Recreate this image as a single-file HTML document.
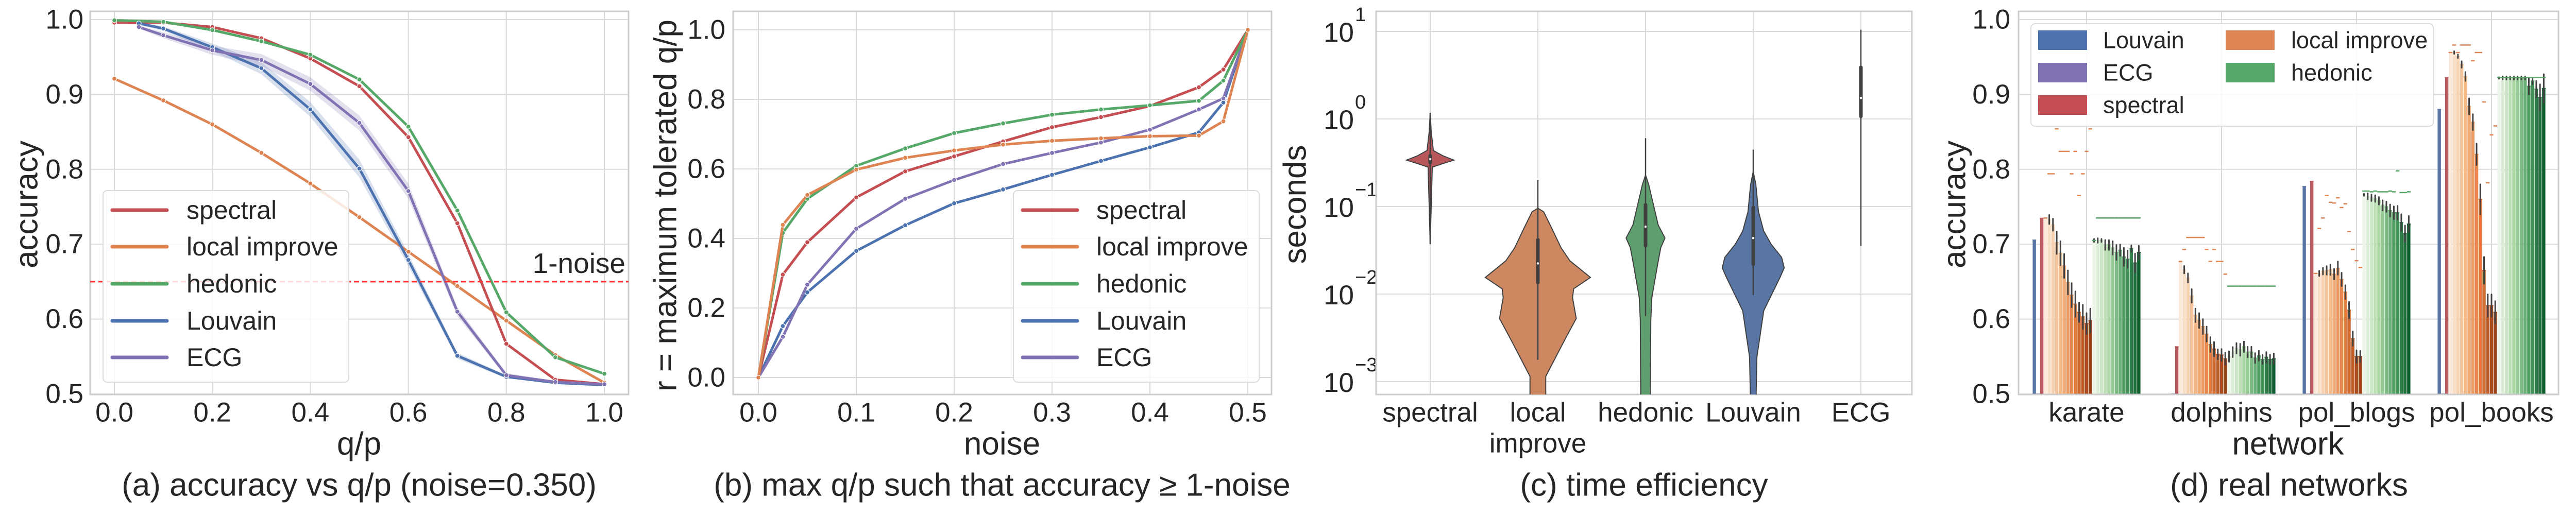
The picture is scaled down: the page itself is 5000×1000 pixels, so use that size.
<!DOCTYPE html>
<html><head><meta charset="utf-8"><style>
html,body{margin:0;padding:0;background:#fff;}
svg{display:block;font-family:"Liberation Sans",Arial,sans-serif;}
</style></head><body>
<svg id="fig" width="5000" height="1000" viewBox="0 0 5000 1000" xmlns="http://www.w3.org/2000/svg">
<defs>
<clipPath id="clipA"><rect x="175" y="22" width="1045" height="744"/></clipPath>
<clipPath id="clipB"><rect x="1423" y="22" width="1045" height="744"/></clipPath>
<clipPath id="clipC"><rect x="2671" y="22" width="1040" height="744"/></clipPath>
<clipPath id="clipD"><rect x="3918" y="22" width="1048" height="744"/></clipPath>
</defs>
</svg>
<script>
// ---------- Panel (a) data ----------
const qpA = [0,0.1,0.2,0.3,0.4,0.5,0.6,0.7,0.8,0.9,1.0];
const qpA2 = [0.05,0.1,0.2,0.3,0.4,0.5,0.6,0.7,0.8,0.9,1.0];
const aSpectral = [0.996,0.996,0.990,0.975,0.948,0.911,0.843,0.728,0.567,0.519,0.513];
const aLocal = [0.921,0.892,0.860,0.822,0.781,0.736,0.690,0.644,0.598,0.552,0.515];
const aHedonic = [0.999,0.997,0.986,0.971,0.953,0.920,0.857,0.745,0.609,0.549,0.527];
const aLouvain = [0.995,0.988,0.963,0.935,0.880,0.801,0.679,0.551,0.523,0.515,0.512];
const aECG = [0.990,0.979,0.959,0.946,0.914,0.862,0.771,0.610,0.525,0.516,0.513];
const aLouvainErr = [0.002,0.003,0.005,0.008,0.010,0.012,0.008,0.004,0.002,0.001,0.001];
const aECGErr = [0.002,0.004,0.006,0.008,0.009,0.010,0.010,0.006,0.003,0.001,0.001];
const aNoiseLine = 0.65;
const aYTicks = [0.5,0.6,0.7,0.8,0.9,1.0];
const aXTicks = [0,0.2,0.4,0.6,0.8,1.0];
// ---------- Panel (b) data ----------
const noiseB = [0,0.025,0.05,0.1,0.15,0.2,0.25,0.3,0.35,0.4,0.45,0.475,0.5];
const bSpectral = [0,0.296,0.389,0.518,0.593,0.636,0.679,0.72,0.749,0.781,0.835,0.886,1.0];
const bLocal = [0,0.439,0.525,0.598,0.632,0.653,0.670,0.681,0.688,0.694,0.696,0.737,1.0];
const bHedonic = [0,0.416,0.514,0.609,0.659,0.703,0.731,0.756,0.771,0.783,0.796,0.854,1.0];
const bLouvain = [0,0.148,0.245,0.364,0.438,0.501,0.541,0.583,0.623,0.662,0.705,0.791,1.0];
const bECG = [0,0.117,0.267,0.428,0.514,0.568,0.614,0.646,0.676,0.713,0.771,0.803,1.0];
const bYTicks = [0,0.2,0.4,0.6,0.8,1.0];
const bXTicks = [0,0.1,0.2,0.3,0.4,0.5];
// ---------- Panel (c) data (log10 seconds) ----------
const cCats = ["spectral","local improve","hedonic","Louvain","ECG"];
const cProfileLog = [
 [0.07,-0.15,-0.36,-0.42,-0.47,-0.51,-0.55,-1.43],
 [-1.02,-1.06,-1.28,-1.47,-1.62,-1.81,-1.94,-2.04,-2.28,-2.49,-2.94,-3.3],
 [-0.64,-0.75,-0.98,-1.21,-1.36,-1.47,-1.66,-2.04,-2.30,-3.3],
 [-0.60,-0.75,-1.06,-1.28,-1.43,-1.58,-1.70,-1.81,-2.19,-2.72,-3.3],
 []
];
const cProfileDens = [
 [0,0.02,0.06,0.24,0.45,0.24,0.04,0],
 [0,0.11,0.29,0.44,0.61,1.0,0.68,0.66,0.73,0.54,0.15,0.15],
 [0,0.06,0.15,0.24,0.37,0.29,0.23,0.12,0.10,0.09],
 [0,0.05,0.10,0.20,0.34,0.54,0.59,0.51,0.20,0.07,0.05],
 []
];
const cWhiskLo = [-1.43,-2.75,-2.25,-2.01,-1.45];
const cWhiskHi = [0.07,-0.70,-0.22,-0.35,1.02];
const cQ1 = [-0.50,-1.87,-1.45,-1.66,0.03];
const cQ3 = [-0.42,-1.38,-0.98,-1.01,0.59];
const cMedian = [-0.46,-1.65,-1.23,-1.36,0.24];
const cYTicks = [1,0,-1,-2,-3];
// ---------- Panel (d) data ----------
const dNets = ["karate","dolphins","pol_blogs","pol_books"];
const dLouvain = [0.7055,0.499,0.777,0.880];
const dECG = [0.5,0.5,0.5,0.5];
const dSpectral = [0.7347,0.563,0.784,0.9225];
const dLocal = [
 [0.734,0.733,0.726,0.702,0.688,0.671,0.649,0.632,0.620,0.609,0.603,0.594,0.598],
 [0.676,0.666,0.655,0.631,0.605,0.598,0.590,0.580,0.566,0.560,0.553,0.552,0.547],
 [0.661,0.661,0.664,0.665,0.666,0.660,0.668,0.653,0.636,0.612,0.574,0.550,0.550],
 [0.956,0.956,0.951,0.940,0.924,0.884,0.863,0.820,0.760,0.665,0.618,0.618,0.609]
];
const dLocalErr = [
 [0,0.006,0.008,0.015,0.016,0.016,0.016,0.016,0.017,0.013,0.016,0.014,0.016],
 [0,0.005,0.006,0.009,0.009,0.010,0.010,0.010,0.010,0.0095,0.0066,0.008,0.008],
 [0,0.0035,0.0044,0.0057,0.007,0.007,0.0088,0.0089,0.0092,0.011,0.0096,0.0083,0.0074],
 [0,0.0017,0.0023,0.0043,0.006,0.0107,0.0106,0.0144,0.020,0.018,0.015,0.015,0.015]
];
const dLocalBest = [
 [0.735,0.794,0.794,0.854,0.824,0.824,0.824,0.794,0.824,0.765,0.794,0.824,0.854],
 [0.677,0.693,0.709,0.709,0.709,0.709,0.709,0.693,0.677,0.693,0.677,0.677,0.660],
 [0.661,0.721,0.735,0.765,0.756,0.755,0.762,0.749,0.754,0.717,0.693,0.678,0.669],
 [0.956,0.966,0.956,0.966,0.966,0.966,0.945,0.956,0.956,0.890,0.782,0.846,0.858]
];
const dHedonic = [
 [0.705,0.705,0.705,0.699,0.699,0.695,0.689,0.692,0.683,0.680,0.694,0.675,0.689],
 [0.550,0.556,0.561,0.559,0.563,0.556,0.556,0.548,0.551,0.546,0.549,0.546,0.547],
 [0.766,0.764,0.762,0.761,0.758,0.752,0.750,0.745,0.742,0.742,0.729,0.714,0.727],
 [0.922,0.922,0.922,0.922,0.922,0.922,0.922,0.922,0.911,0.918,0.907,0.896,0.908]
];
const dHedonicErr = [
 [0.002,0.003,0.002,0.0066,0.0066,0.009,0.010,0.0075,0.012,0.0115,0.0043,0.0123,0.009],
 [0.007,0.0067,0.007,0.008,0.007,0.007,0.007,0.0066,0.0065,0.006,0.007,0.0063,0.007],
 [0.0014,0.004,0.0043,0.0044,0.005,0.0067,0.0068,0.008,0.0085,0.009,0.011,0.011,0.0106],
 [0.001,0.002,0.002,0.002,0.002,0.002,0.002,0.002,0.0106,0.0044,0.011,0.0175,0.019]
];
const dHedonicBest = [
 [0.705,0.735,0.735,0.735,0.735,0.735,0.735,0.735,0.735,0.735,0.735,0.735,0.735],
 [0.644,0.644,0.644,0.644,0.644,0.644,0.644,0.644,0.644,0.644,0.644,0.644,0.644],
 [0.771,0.771,0.770,0.771,0.770,0.770,0.770,0.771,0.770,0.798,0.769,0.769,0.770],
 [0.9225,0.9225,0.9225,0.9225,0.9225,0.9225,0.9225,0.9225,0.9225,0.9225,0.9225,0.9225,0.9225]
];
const dYTicks = [0.5,0.6,0.7,0.8,0.9,1.0];

// ---------- helpers ----------
const NS = "http://www.w3.org/2000/svg";
const svg = document.getElementById('fig');
function mk(tag, attrs, parent) {
  const e = document.createElementNS(NS, tag);
  for (const k in attrs) e.setAttribute(k, attrs[k]);
  (parent || svg).appendChild(e);
  return e;
}
const TXT = "#262626", GRID = "#dadada", SPINE = "#cccccc";
const COL = {spectral:"#c44e52", local:"#dd8452", hedonic:"#55a868", louvain:"#4c72b0", ecg:"#8172b3"};

// scales
const xa = v => 222 + v*951;
const ya = v => 765 - (v-0.5)*1454;
const xb = v => 1472 + v*1900;
const yb = v => 733 - v*675;
const xc = i => 2776 + i*209;
const yc = lv => 231 - lv*170;
const yd = v => 765 - (v-0.5)*1454;
const xdGroup = g => 4050 + g*262;
const BW = 210/29;
const xdBar = (g,j) => xdGroup(g) - 105 + j*BW;

function frame(x0,x1,name){
  const r = mk('rect',{x:x0,y:22,width:x1-x0,height:744,fill:'none',stroke:SPINE,'stroke-width':3});
  
  
}
function gridH(x0,x1,y){
  const l = mk('line',{x1:x0,x2:x1,y1:y,y2:y,stroke:GRID,'stroke-width':2});
  
  
}
function gridV(x,y0,y1){
  const l = mk('line',{x1:x,x2:x,y1:y0,y2:y1,stroke:GRID,'stroke-width':2});
  
  
}
function text(x,y,s,size,anchor,name,extra){
  const t = mk('text',Object.assign({x:x,y:y,'font-size':size,'text-anchor':anchor||'middle',fill:TXT,'dominant-baseline':'central'},extra||{}));
  t.textContent = s;
  
  
  return t;
}
function series(xs,ys,xf,yf,color,clip,name){
  const g = mk('g',{'clip-path':'url(#'+clip+')'});
  
  
  const pts = xs.map((x,i)=>xf(x)+','+yf(ys[i])).join(' ');
  const pl = mk('polyline',{points:pts,fill:'none',stroke:color,'stroke-width':5,'stroke-linejoin':'round'},g);
  
  
  xs.forEach((x,i)=>{
    const c = mk('circle',{cx:xf(x),cy:yf(ys[i]),r:4.5,fill:color,stroke:'#fff','stroke-width':1.2},g);
    
    
  });
}
function band(xs,ys,err,xf,yf,color,name){
  let d = xs.map((x,i)=>(i?'L':'M')+xf(x)+','+yf(ys[i]+err[i])).join(' ');
  for (let i=xs.length-1;i>=0;i--) d += ' L'+xf(xs[i])+','+yf(ys[i]-err[i]);
  const p = mk('path',{d:d+'Z',fill:color,opacity:0.22,'clip-path':'url(#clipA)'});
  
  
}
function legendLines(x0,y0,w,h,lineX,textX,rows,ys,size,name){
  const g = mk('g',{});
  
  
  const r = mk('rect',{x:x0,y:y0,width:w,height:h,rx:8,fill:'#fff','fill-opacity':0.82,stroke:'#dcdcdc','stroke-width':2},g);
  
  
  rows.forEach((row,i)=>{
    const l = mk('line',{x1:lineX,x2:lineX+106,y1:ys[i],y2:ys[i],stroke:row[1],'stroke-width':7,'stroke-linecap':'round'},g);
    
    
    const t = mk('text',{x:textX,y:ys[i],'font-size':size,fill:TXT,'dominant-baseline':'central'},g);
    t.textContent = row[0];
    
    
  });
}

// ================= Panel A =================
aYTicks.forEach(v=>{ gridH(175,1220,ya(v)); text(162,ya(v),v.toFixed(1),53,'end','y-tick-label'); });
aXTicks.forEach(v=>{ gridV(xa(v),22,766); text(xa(v),801,v.toFixed(1),53,'middle','x-tick-label'); });
frame(175,1220,'axes-a');
band(qpA2,aLouvain,aLouvainErr,xa,ya,COL.louvain,'louvain-ci-band');
band(qpA2,aECG,aECGErr,xa,ya,COL.ecg,'ecg-ci-band');
series(qpA,aLocal,xa,ya,COL.local,'clipA','series-local-improve');
series(qpA,aSpectral,xa,ya,COL.spectral,'clipA','series-spectral');
series(qpA,aHedonic,xa,ya,COL.hedonic,'clipA','series-hedonic');
series(qpA2,aLouvain,xa,ya,COL.louvain,'clipA','series-louvain');
series(qpA2,aECG,xa,ya,COL.ecg,'clipA','series-ecg');
const nl = mk('line',{x1:175,x2:1220,y1:ya(aNoiseLine),y2:ya(aNoiseLine),stroke:'#ff3030','stroke-width':3,'stroke-dasharray':'10,6'});


text(1214,ya(aNoiseLine)-36,'1-noise',55,'end','one-minus-noise-label');
legendLines(200,370,477,372,218,362,[['spectral',COL.spectral],['local improve',COL.local],['hedonic',COL.hedonic],['Louvain',COL.louvain],['ECG',COL.ecg]],[408,479,551,623,694],50,'legend-a');
text(52,397,'accuracy',62,'middle','y-axis-title-a',{transform:'rotate(-90 52 397)'});
text(697,862,'q/p',62,'middle','x-axis-title-a');
text(697,942,'(a) accuracy vs q/p (noise=0.350)',62,'middle','caption-a');

// ================= Panel B =================
bYTicks.forEach(v=>{ gridH(1423,2468,yb(v)); text(1408,yb(v),v.toFixed(1),53,'end','y-tick-label'); });
bXTicks.forEach(v=>{ gridV(xb(v),22,766); text(xb(v),801,v.toFixed(1),53,'middle','x-tick-label'); });
frame(1423,2468,'axes-b');
series(noiseB,bLouvain,xb,yb,COL.louvain,'clipB','series-louvain-b');
series(noiseB,bECG,xb,yb,COL.ecg,'clipB','series-ecg-b');
series(noiseB,bSpectral,xb,yb,COL.spectral,'clipB','series-spectral-b');
series(noiseB,bHedonic,xb,yb,COL.hedonic,'clipB','series-hedonic-b');
series(noiseB,bLocal,xb,yb,COL.local,'clipB','series-local-improve-b');
legendLines(1967,370,477,372,1985,2128,[['spectral',COL.spectral],['local improve',COL.local],['hedonic',COL.hedonic],['Louvain',COL.louvain],['ECG',COL.ecg]],[408,479,551,623,694],50,'legend-b');
text(1292,399,'r = maximum tolerated q/p',62,'middle','y-axis-title-b',{transform:'rotate(-90 1292 399)'});
text(1945,862,'noise',62,'middle','x-axis-title-b');
text(1945,942,'(b) max q/p such that accuracy \u2265 1-noise',62,'middle','caption-b');

// ================= Panel C =================
cYTicks.forEach(lv=>{
  gridH(2671,3711,yc(lv));
  const t = mk('text',{x:2628,y:yc(lv)+20,'font-size':53,'text-anchor':'end',fill:TXT});
  
  
  t.textContent = '10';
  const s = mk('text',{x:2630,y:yc(lv)-20,'font-size':38,'text-anchor':'start',fill:TXT});
  
  
  s.textContent = lv<0 ? '\u2212'+(-lv) : String(lv);
});
cCats.forEach((c,i)=>{
  gridV(xc(i),22,766);
  const parts = c==='local improve' ? ['local','improve'] : [c];
  parts.forEach((p,k)=>text(xc(i),801+k*60,p,53,'middle','x-tick-label'));
});
frame(2671,3711,'axes-c');
const VCOL = ['#b9585c','#cd8862','#5f9e6e','#5975a4','#8172b3'];
const VMAX = 102;
const gC = mk('g',{'clip-path':'url(#clipC)'});


cCats.forEach((c,i)=>{
  const L = cProfileLog[i], D = cProfileDens[i];
  if (L.length){
    let d = L.map((lv,k)=>(k?'L':'M')+(xc(i)+D[k]*VMAX)+','+yc(lv)).join(' ');
    for (let k=L.length-1;k>=0;k--) d += ' L'+(xc(i)-D[k]*VMAX)+','+yc(L[k]);
    const p = mk('path',{d:d+'Z',fill:VCOL[i],stroke:'#404040','stroke-width':2},gC);
    
    
  }
  const w = mk('line',{x1:xc(i),x2:xc(i),y1:yc(cWhiskHi[i]),y2:yc(cWhiskLo[i]),stroke:'#404040','stroke-width':2.5},gC);
  
  
  const b = mk('line',{x1:xc(i),x2:xc(i),y1:yc(cQ3[i]),y2:yc(cQ1[i]),stroke:'#404040','stroke-width':7,'stroke-linecap':'round'},gC);
  
  
  const m = mk('circle',{cx:xc(i),cy:yc(cMedian[i]),r:2.2,fill:'#fff'},gC);
  
  
});
text(2514,397,'seconds',62,'middle','y-axis-title-c',{transform:'rotate(-90 2514 397)'});
text(3191,942,'(c) time efficiency',62,'middle','caption-c');

// ================= Panel D =================
dYTicks.forEach(v=>{ gridH(3918,4966,yd(v)); text(3902,yd(v),v.toFixed(1),53,'end','y-tick-label'); });
dNets.forEach((n,g)=>{ gridV(xdGroup(g),22,766); text(xdGroup(g),801,n,53,'middle','x-tick-label'); });
function lerpCol(stops,t){
  const seg = Math.min(stops.length-2, Math.floor(t*(stops.length-1)));
  const f = t*(stops.length-1)-seg;
  const a = stops[seg], b = stops[seg+1];
  return 'rgb('+[0,1,2].map(k=>Math.round(a[k]+(b[k]-a[k])*f)).join(',')+')';
}
const ORS = [[251,234,219],[242,185,135],[226,122,60],[153,62,20]];
const GRS = [[237,245,233],[170,214,164],[80,160,100],[15,94,47]];
const gD = mk('g',{'clip-path':'url(#clipD)'});


function bar(g,j,v,color,name){
  const r = mk('rect',{x:xdBar(g,j)+0.4,y:yd(v),width:BW-0.8,height:Math.max(0,yd(0.45)-yd(v)),fill:color},gD);
  
  
  const cap = mk('line',{x1:xdBar(g,j),x2:xdBar(g,j)+BW,y1:yd(v),y2:yd(v),stroke:color,'stroke-width':2},gD);
  
  
}
function errbar(g,j,v,e){
  if (e<=0) return;
  const l = mk('line',{x1:xdBar(g,j)+BW/2,x2:xdBar(g,j)+BW/2,y1:yd(v+e),y2:yd(v-e),stroke:'#424242','stroke-width':3,'stroke-linecap':'round'},gD);
  
  
}
function dash(g,j,v,color){
  const l = mk('line',{x1:xdBar(g,j),x2:xdBar(g,j)+BW,y1:yd(v),y2:yd(v),stroke:color,'stroke-width':2.5},gD);
  
  
}
dNets.forEach((n,g)=>{
  bar(g,0,dLouvain[g],'#5975a4','bar-louvain-'+n);
  bar(g,1,dECG[g],'#8172b3','bar-ecg-'+n);
  bar(g,2,dSpectral[g],'#b85a60','bar-spectral-'+n);
  dLocal[g].forEach((v,k)=>bar(g,3+k,v,lerpCol(ORS,k/12),'bar-local-improve-'+n));
  dHedonic[g].forEach((v,k)=>bar(g,16+k,v,lerpCol(GRS,k/12),'bar-hedonic-'+n));
  dLocal[g].forEach((v,k)=>errbar(g,3+k,v,dLocalErr[g][k]));
  dHedonic[g].forEach((v,k)=>errbar(g,16+k,v,dHedonicErr[g][k]));
  dLocalBest[g].forEach((v,k)=>dash(g,3+k,v,'#dd8452'));
  dHedonicBest[g].forEach((v,k)=>dash(g,16+k,v,'#55a868'));
});
frame(3918,4966,'axes-d');
const lg = mk('g',{});


const lr = mk('rect',{x:3942,y:46,width:781,height:199,rx:8,fill:'#fff','fill-opacity':0.85,stroke:'#dcdcdc','stroke-width':2},lg);


[['Louvain',COL.louvain,3956,4082,78],['ECG',COL.ecg,3956,4082,141],['spectral',COL.spectral,3956,4082,204],['local improve',COL.local,4320,4447,78],['hedonic',COL.hedonic,4320,4447,141]].forEach(e=>{
  const p = mk('rect',{x:e[2],y:e[4]-19,width:95,height:38,fill:e[1]},lg);
  
  
  const t = mk('text',{x:e[3],y:e[4],'font-size':45,fill:TXT,'dominant-baseline':'central'},lg);
  t.textContent = e[0];
  
  
});
text(3794,397,'accuracy',62,'middle','y-axis-title-d',{transform:'rotate(-90 3794 397)'});
text(4441,862,'network',62,'middle','x-axis-title-d');
text(4443,942,'(d) real networks',62,'middle','caption-d');
</script>
</body></html>
